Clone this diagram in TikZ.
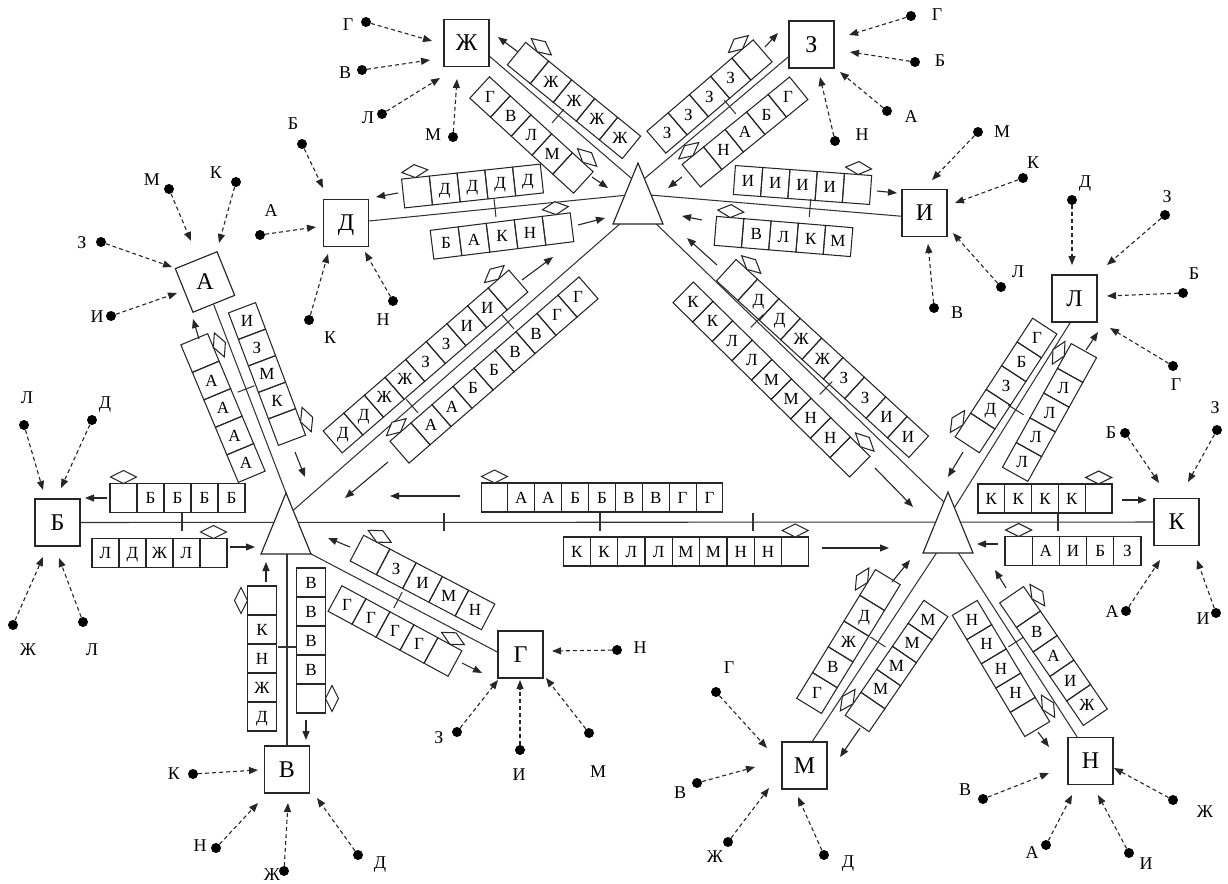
\documentclass[tikz,border=0pt]{standalone}
\usepackage{fontspec}
\setmainfont{Liberation Serif}
\usetikzlibrary{arrows.meta,calc}
\tikzset{
  ln/.style={line width=1.05pt, draw=black!80},
  cell/.style={line width=1.05pt, draw=black!85},
  dia/.style={line width=1.05pt, draw=black!85, fill=white},
  lbl/.style={font=\fontsize{17}{17}\selectfont, text height=11.2pt, text depth=0pt, inner sep=0pt},
  elbl/.style={font=\fontsize{18}{18}\selectfont, text height=11.9pt, text depth=0pt, inner sep=0pt},
  box/.style={draw=black!85, line width=1.15pt, fill=white, minimum width=45pt, minimum height=47pt, inner sep=0pt,
    font=\fontsize{24}{24}\selectfont, text height=15.9pt, text depth=0pt},
  blbl/.style={font=\fontsize{24}{24}\selectfont, text height=15.9pt, text depth=0pt, inner sep=0pt},
  dot/.style={circle, fill=black, minimum size=10pt, inner sep=0pt},
  da/.style={line width=1.1pt, dash pattern=on 4pt off 3pt, draw=black!85, -{Triangle[length=9pt,width=7pt]}},
  arr/.style={line width=1.1pt, draw=black!85, -{Triangle[length=9pt,width=7pt]}},
  hub/.style={line width=1.15pt, draw=black!85, fill=white}
}
% queue of cells: #1,#2 first cell centre; #3,#4 last cell centre; #5 number of cells;
% #6 labels; #7 cell carrying the diamond; #8 side of the diamond (1 = left of direction); #9 name
\newcommand\qrow[9]{%
  \pgfmathsetmacro\qang{atan2(-((#4)-(#2)),(#3)-(#1))}%
  \pgfmathsetmacro\qstep{veclen((#3)-(#1),(#4)-(#2))/((#5)-1)}%
  \begin{scope}[shift={(#1,#2)},rotate=\qang]
    \foreach \qlt [count=\qi] in {#6} {
      \pgfmathsetmacro\qx{(\qi-1)*\qstep}
      \draw[cell] ({\qx-\qstep/2},-14.5) rectangle ({\qx+\qstep/2},14.5);
      \node[lbl] (#9-\qi) at (\qx,0) {\qlt};
    }
    \pgfmathsetmacro\qd{((#7)-1)*\qstep}
    \pgfmathsetmacro\qy{-(#8)*21}
    \draw[dia] ({\qd-13},\qy) -- (\qd,{\qy-6.5}) -- ({\qd+13},\qy) -- (\qd,{\qy+6.5}) -- cycle;
  \end{scope}}
\newcommand\ext[5]{%
  \node[dot] (#1) at (#3) {};
  \node[elbl] (#1l) at (#4) {#2};
  \coordinate (#1t) at (#5);
  \draw[da] (#1) -- (#1t);}
\newcommand\arw[3]{%
  \coordinate (#1s) at (#2);
  \coordinate (#1e) at (#3);
  \draw[arr] (#1s) -- (#1e);}
\newcommand\qtick[2]{%
  \begin{scope}[shift={(#1)},rotate=#2]\draw[ln] (0,-9) -- (0,9);\end{scope}}
\newcommand\hubtri[1]{%
  \draw[hub] ([shift={(0,-37)}]#1) -- ([shift={(25,24)}]#1) -- ([shift={(-25,24)}]#1) -- cycle;}

\begin{document}
\begin{tikzpicture}[x=1pt,y=-1pt]
\useasboundingbox (0,0) rectangle (1228,883);

% terminal boxes
\node[box, rotate=22] (nA) at (205,282) {};
\node[blbl] (nAl) at (205,282) {А};
\node[box] (nB) at (57.5,522.5) {Б};
\node[box] (nV) at (287,769.5) {В};
\node[box] (nG) at (520.5,654.5) {Г};
\node[box] (nD) at (346,223) {Д};
\node[box] (nZh) at (466.5,43) {Ж};
\node[box] (nZ) at (811.5,44.5) {З};
\node[box] (nI) at (924.5,213) {И};
\node[box] (nL) at (1074.5,298.5) {Л};
\node[box] (nK) at (1176.5,522) {К};
\node[box] (nM) at (804.5,765.5) {М};
\node[box] (nN) at (1090.5,761) {Н};

% hubs
\coordinate (T1) at (638,200);
\coordinate (T2) at (286,530);
\coordinate (T3) at (948,529);
\coordinate (h1a) at (638,194);
\coordinate (h1b) at (638,184);
\coordinate (h1c) at (630,215);
\coordinate (h1d) at (648,216);
\coordinate (h2a) at (291,506);
\coordinate (h2b) at (287,530);
\coordinate (h2c) at (296,546);
\coordinate (h2d) at (289,514);
\coordinate (h3a) at (948,506);
\coordinate (h3b) at (953,510);
\coordinate (h3c) at (945,540);
\coordinate (h3d) at (950,540);

% links
\draw[ln] (nB) -- (nK);
\draw[ln] (nA) -- (h2a);
\draw[ln] (nV) -- (h2b);
\draw[ln] (nG.174) -- (h2c);
\draw[ln] (nD.5) -- (h1a);
\draw[ln] (nI.188) -- (h1a);
\draw[ln] (nZh.330) -- (h1b);
\draw[ln] (nZ.208) -- (h1b);
\draw[ln] (nL.260) -- (h3b);
\draw[ln] (nM.72) -- (h3c);
\draw[ln] (nN.119) -- (h3d);
\draw[ln] (h2d) -- (h1c);
\draw[ln] (h1d) -- (h3a);

% ticks
\qtick{182,522}{0}
\qtick{444,522}{0}
\qtick{600,522}{0}
\qtick{753,522}{0}
\qtick{1058,522}{0}
\qtick{246,389}{-69}
\qtick{287,647}{-90}
\qtick{398,600}{-27.9}
\qtick{495,208}{5.8}
\qtick{558,116}{-40.9}
\qtick{730,107}{39.9}
\qtick{810,208}{-4.8}
\qtick{412,406}{41.1}
\qtick{508,322}{41.1}
\qtick{757,321}{-44}
\qtick{826,388}{-44}
\qtick{1016,410}{57.9}
\qtick{878,642}{56.6}
\qtick{1016,642}{-57.2}

% triangles (hubs)
\hubtri{T1}
\hubtri{T2}
\hubtri{T3}

% queues
\qrow{123.5}{498}{231.5}{498}{5}{{},Б,Б,Б,Б}{1}{1}{q1}
\qrow{105.5}{553}{213.5}{553}{5}{Л,Д,Ж,Л,{}}{5}{1}{q2}
\qrow{494.5}{497.5}{709.5}{497.5}{9}{{},А,А,Б,Б,В,В,Г,Г}{1}{1}{q3}
\qrow{576.7}{551.5}{795.3}{551.5}{9}{К,К,Л,Л,М,М,Н,Н,{}}{9}{1}{q4}
\qrow{991.4}{498.5}{1098.6}{498.5}{5}{К,К,К,К,{}}{5}{1}{q5}
\qrow{1018.6}{551}{1127.4}{551}{5}{{},А,И,Б,З}{1}{1}{q6}
\qrow{417}{192}{528}{180}{5}{{},Д,Д,Д,Д}{1}{1}{q7}
\qrow{446}{243}{558}{229}{5}{Б,А,К,Н,{}}{5}{1}{q8}
\qrow{748}{181}{857}{189}{5}{И,И,И,И,{}}{5}{1}{q9}
\qrow{729}{232}{838}{241}{5}{{},В,Л,К,М}{1}{1}{q10}
\qrow{200}{353}{246}{463}{5}{{},А,А,А,А}{1}{1}{q11}
\qrow{247}{321}{287}{427}{5}{И,З,М,К,{}}{5}{1}{q12}
\qrow{262}{600.5}{262}{716.5}{5}{{},К,Н,Ж,Д}{1}{-1}{q13}
\qrow{311}{582.5}{311}{698.5}{5}{В,В,В,В,{}}{5}{1}{q14}
\qrow{370}{555}{475}{610}{5}{{},З,И,М,Н}{1}{1}{q15}
\qrow{347}{605}{443}{657}{5}{Г,Г,Г,Г,{}}{5}{1}{q16}
\qrow{528}{63}{620}{138}{5}{{},Ж,Ж,Ж,Ж}{1}{1}{q17}
\qrow{490}{97}{573}{173}{5}{Г,В,Л,М,{}}{5}{1}{q18}
\qrow{667}{133}{752}{60}{5}{З,З,З,З,{}}{5}{1}{q19}
\qrow{702}{167}{788}{97}{5}{{},Н,А,Б,Г}{1}{1}{q20}
\qrow{343}{433}{508}{290}{9}{Д,Д,Ж,Ж,З,З,И,И,{}}{9}{1}{q21}
\qrow{410}{443}{578}{297}{9}{{},А,А,Б,Б,В,В,Г,Г}{1}{1}{q22}
\qrow{737}{280}{908}{437}{9}{{},Д,Д,Ж,Ж,З,З,И,И}{1}{1}{q23}
\qrow{693}{302}{850}{457}{9}{К,К,Л,Л,М,М,Н,Н,{}}{9}{1}{q24}
\qrow{1037}{338}{975}{433}{5}{Г,Б,З,Д,{}}{5}{-1}{q25}
\qrow{1077}{363}{1022}{462}{5}{{},Л,Л,Л,Л}{1}{-1}{q26}
\qrow{880}{590}{817}{693}{5}{{},Д,Ж,В,Г}{1}{-1}{q27}
\qrow{928}{620}{865}{712}{5}{М,М,М,М,{}}{5}{-1}{q28}
\qrow{972}{620}{1030}{717}{5}{Н,Н,Н,Н,{}}{5}{1}{q29}
\qrow{1020}{607}{1087}{705}{5}{{},В,А,И,Ж}{1}{1}{q30}

% flow arrows
\arw{a1}{107,498}{85,498}
\arw{a2}{230,547}{255,547}
\arw{a3}{460,496}{390,496}
\arw{a4}{822,548}{889,548}
\arw{a5}{1122,500}{1147,500}
\arw{a6}{998,544}{977,544}
\arw{a7}{398,193}{376,197}
\arw{a8}{578,225}{605,218}
\arw{a9}{877,191}{897,193}
\arw{a10}{702,220}{682,216}
\arw{a11}{199,339}{193,319}
\arw{a12}{295,452}{305,477}
\arw{a13}{266,582}{266,562}
\arw{a14}{306,720}{306,740}
\arw{a15}{350,547}{328,538}
\arw{a16}{462,663}{482,673}
\arw{a17}{518,52}{498,37}
\arw{a18}{592,177}{608,188}
\arw{a19}{765,47}{778,33}
\arw{a20}{682,177}{668,188}
\arw{a21}{522,280}{553,257}
\arw{a22}{388,462}{345,498}
\arw{a23}{717,265}{687,238}
\arw{a24}{875,468}{913,507}
\arw{a25}{963,452}{948,477}
\arw{a26}{1086,350}{1098,332}
\arw{a27}{892,582}{910,560}
\arw{a28}{860,728}{840,757}
\arw{a29}{1038,732}{1049,747}
\arw{a30}{1006,588}{995,570}

% external sources
\ext{eA1}{М}{169,189}{152,180}{191,241}
\ext{eA2}{К}{236,182}{216,173}{219,243}
\ext{eA3}{З}{101,242}{82,243}{172,267}
\ext{eA4}{И}{111,316}{97,317}{177,293}

\ext{eD1}{Б}{302,144}{293,124}{323,188}
\ext{eD2}{А}{260,235}{271,211}{316,227}
\ext{eD3}{К}{309,320}{330,338}{328,254}
\ext{eD4}{Н}{393,301}{383,320}{365,252}

\ext{eZh1}{Г}{366,22}{348,25}{432,41}
\ext{eZh2}{В}{362,70}{345,73}{430,60}
\ext{eZh3}{Л}{382,114}{368,118}{440,78}
\ext{eZh4}{М}{453,137}{433,135}{457,79}

\ext{eZ1}{Г}{911,16}{937,15}{849,35}
\ext{eZ2}{Б}{915,62}{940,61}{850,52}
\ext{eZ3}{А}{887,111}{911,117}{840,72}
\ext{eZ4}{Н}{835,141}{862,135}{820,77}

\ext{eI1}{М}{978,132}{1002,132}{932,180}
\ext{eI2}{К}{1023,178}{1033,163}{955,203}
\ext{eI3}{Л}{1001,287}{1018,272}{953,233}
\ext{eI4}{В}{934,308}{957,313}{928,244}

\ext{eL1}{Д}{1072,200}{1085,182}{1072,265}
\ext{eL2}{З}{1165,215}{1167,197}{1107,265}
\ext{eL3}{Б}{1183,293}{1194,274}{1107,296}
\ext{eL4}{Г}{1173,366}{1176,385}{1110,328}

\ext{eK1}{Б}{1125,433}{1111,433}{1159,483}
\ext{eK2}{З}{1217,430}{1215,408}{1188,482}
\ext{eK3}{А}{1126,611}{1112,612}{1160,560}
\ext{eK4}{И}{1216,613}{1203,619}{1197,560}

\ext{eB1}{Л}{24,425}{27,398}{43,490}
\ext{eB2}{Д}{92,420}{105,403}{61,488}
\ext{eB3}{Ж}{13,625}{28,650}{43,557}
\ext{eB4}{Л}{83,622}{92,650}{59,558}

\ext{eV1}{К}{193,774}{174,774}{258,770}
\ext{eV2}{Н}{216,848}{200,846}{258,803}
\ext{eV3}{Ж}{284,871}{272,875}{288,803}
\ext{eV4}{Д}{358,855}{380,863}{317,798}

\ext{eG1}{Н}{617,650}{640,648}{552,651}
\ext{eG2}{З}{457,732}{439,738}{498,680}
\ext{eG3}{И}{520,750}{519,775}{520,680}
\ext{eG4}{М}{589,733}{598,772}{546,678}

\ext{eM1}{Г}{716,692}{729,668}{767,748}
\ext{eM2}{В}{697,783}{680,793}{755,767}
\ext{eM3}{Ж}{728,842}{715,857}{769,788}
\ext{eM4}{Д}{824,855}{848,862}{798,797}

\ext{eN1}{В}{983,799}{965,790}{1049,773}
\ext{eN2}{А}{1046,845}{1032,853}{1072,795}
\ext{eN3}{И}{1129,853}{1146,864}{1098,795}
\ext{eN4}{Ж}{1173,800}{1205,812}{1114,768}
\end{tikzpicture}
\end{document}
